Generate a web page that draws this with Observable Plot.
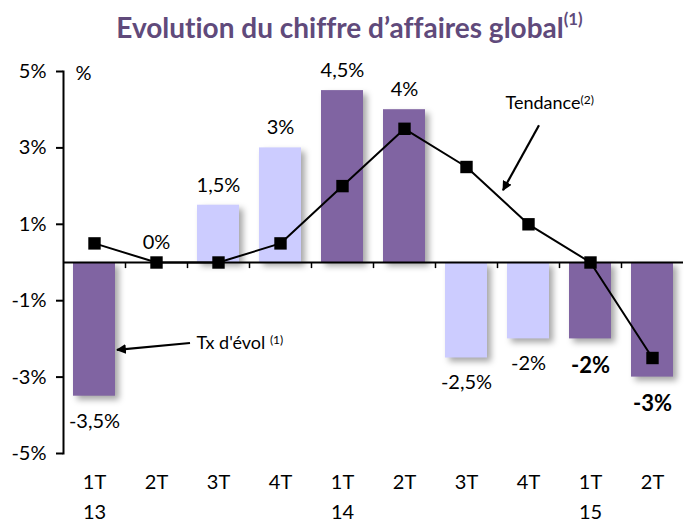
<!DOCTYPE html>
<html>
<head>
<meta charset="utf-8">
<script src="https://cdn.jsdelivr.net/npm/d3@7"></script>
<script src="https://cdn.jsdelivr.net/npm/@observablehq/plot@0.6"></script>
<style>
  body { margin: 0; background: #fff; width: 685px; height: 527px; overflow: hidden; }
  #title { height: 52px; margin: 0; padding-left: 14px; box-sizing: border-box; text-align: center;
    font-family: Lato, sans-serif; font-weight: bold; font-size: 28px; color: #604a7b; line-height: 54px;
    font-variant-ligatures: none; }
  #title sup { font-size: 60%; line-height: 0; vertical-align: 0.75em; }
</style>
</head>
<body>
<div id="title">Evolution du chiffre d’affaires global<sup>(1)</sup></div>
<div id="chart"></div>
<script>
// ---- data ----
const categories = ["1T 13","2T 13","3T 13","4T 13","1T 14","2T 14","3T 14","4T 14","1T 15","2T 15"];
const quarters   = ["1T","2T","3T","4T","1T","2T","3T","4T","1T","2T"];
const years      = ["13","","","","14","","","","15",""];
const growth     = [-3.5, 0, 1.5, 3, 4.5, 4, -2.5, -2, -2, -3];
const trend      = [0.5, 0, 0, 0.5, 2, 3.5, 2.5, 1, 0, -2.5];
const barLabels  = ["-3,5%","0%","1,5%","3%","4,5%","4%","-2,5%","-2%","-2%","-3%"];
const tones      = ["dark","dark","light","light","dark","dark","light","light","dark","dark"];
const boldLabel  = [false,false,false,false,false,false,false,false,true,true];
const yTicks     = [5, 3, 1, -1, -3, -5];
const yTickLabels = ["5%","3%","1%","-1%","-3%","-5%"];
const notes = [
  {cat: "4T 14", v: 4.16, label: "Tendance", sup: "(2)", offset: -23},
  {cat: "2T 13", v: -2.12, label: "Tx d'évol ", sup: "(1)", offset: 40}
];

const data = categories.map((cat, i) => ({
  cat, q: quarters[i], yr: years[i], growth: growth[i], trend: trend[i],
  label: barLabels[i], tone: tones[i], bold: boldLabel[i]
}));

const plot = Plot.plot({
  width: 685, height: 475,
  marginTop: 19, marginBottom: 74, marginLeft: 63, marginRight: 2,
  style: {fontFamily: "Lato, sans-serif", fontSize: "20px", color: "#000", background: "#fff"},
  x: {domain: categories, paddingInner: 0.32, paddingOuter: 0.16, axis: null, label: null},
  y: {domain: [-5, 5], axis: null, label: null},
  color: {domain: ["dark", "light"], range: ["#8064a2", "#ccccff"]},
  marks: [
    Plot.barY(data, {x: "cat", y: "growth", fill: "tone"}),
    Plot.ruleY([0], {stroke: "#000", strokeWidth: 2}),
    Plot.ruleX(categories.slice(1), {x: d => d, dx: -31, y1: 0, y2: -0.16, stroke: "#000", strokeWidth: 1.5}),
    Plot.frame({anchor: "left", stroke: "#000", strokeWidth: 2}),
    Plot.axisY({ticks: yTicks, tickFormat: d => yTickLabels[yTicks.indexOf(d)], tickSize: 7, tickPadding: 10, fontSize: 20, strokeWidth: 2, label: null}),
    Plot.axisX({ticks: categories, tickFormat: (d) => { const i = categories.indexOf(d); return years[i] ? quarters[i] + "\n" + years[i] : quarters[i]; },
      anchor: "bottom", tickSize: 0, tickPadding: 14, fontSize: 20, lineHeight: 1.5, textAnchor: "middle", label: null}),
    Plot.text(["%"], {frameAnchor: "top-left", dx: 12, dy: 2, textAnchor: "start", lineAnchor: "middle", fontSize: 20}),
    Plot.line(data, {x: "cat", y: "trend", stroke: "#000", strokeWidth: 2}),
    Plot.dot(data, {x: "cat", y: "trend", symbol: "square", fill: "#000", r: 7}),
    Plot.text(data.filter(d => d.growth >= 0), {x: "cat", y: "growth", text: "label", dy: -20, fontSize: 20}),
    Plot.text(data.filter(d => d.growth < 0 && !d.bold), {x: "cat", y: "growth", text: "label", dy: 25, fontSize: 20}),
    Plot.text(data.filter(d => d.bold), {x: "cat", y: "growth", text: "label", dy: 27, fontSize: 22, fontWeight: "bold"}),
    Plot.text(notes.slice(0, 1), {x: "cat", y: "v", text: "label", dx: -23, textAnchor: "start", fontSize: 18}),
    Plot.text(notes.slice(1), {x: "cat", y: "v", text: "label", dx: 40, textAnchor: "start", fontSize: 18})
  ]
});
document.getElementById("chart").appendChild(plot);

// superscripts on the annotation labels
d3.select(plot).selectAll('g[aria-label="text"] text').each(function() {
  const t = this.textContent;
  const n = notes.find(n => n.label === t);
  if (n) {
    d3.select(this).append("tspan").attr("dy", "-0.45em").attr("font-size", "12px").text(n.sup);
  }
});

// bar shadows
const bars = plot.querySelector('g[aria-label="bar"]');
if (bars) bars.style.filter = "drop-shadow(4px 4px 3px rgba(0,0,0,0.35))";

// annotation arrows drawn through Plot's scales
const xs = plot.scale("x"), ys = plot.scale("y");
const cx = c => xs.apply(c) + xs.bandwidth / 2;
const svg = d3.select(plot);
svg.append("defs").append("marker")
  .attr("id", "ah").attr("viewBox", "0 0 10 10").attr("refX", 9).attr("refY", 5)
  .attr("markerWidth", 4.5).attr("markerHeight", 4.5).attr("orient", "auto")
  .append("path").attr("d", "M0,0L10,5L0,10z").attr("fill", "#000");
const arrows = [
  {c1: "4T 14", dx1: 11, v1: 3.58, c2: "4T 14", dx2: -25, v2: 1.88},
  {c1: "2T 13", dx1: 34, v1: -2.12, c2: "1T 13", dx2: 23, v2: -2.30}
];
svg.append("g").selectAll("line").data(arrows).join("line")
  .attr("x1", d => cx(d.c1) + d.dx1).attr("y1", d => ys.apply(d.v1))
  .attr("x2", d => cx(d.c2) + d.dx2).attr("y2", d => ys.apply(d.v2))
  .attr("stroke", "#000").attr("stroke-width", 2.2).attr("marker-end", "url(#ah)");
</script>
</body>
</html>
